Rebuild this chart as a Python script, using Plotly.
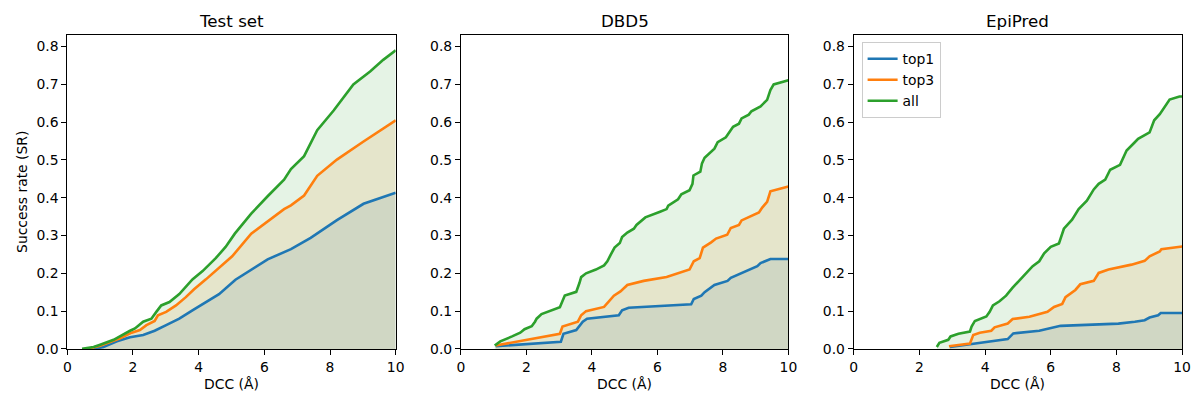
import plotly.graph_objects as go

# ---------------- data ----------------
series_names = ["top1", "top3", "all"]
colors = ["#1f77b4", "#ff7f0e", "#2ca02c"]
fills = ["rgba(31,119,180,0.12)", "rgba(255,127,14,0.12)", "rgba(44,160,44,0.12)"]
panel_titles = ["Test set", "DBD5", "EpiPred"]

# Test set
test_top1_x = [0.8, 1.1, 1.51, 1.91, 2.31, 2.66, 3.01, 3.41, 3.81, 4.22, 4.62, 5.12, 6.1, 6.81, 7.41, 8.21, 9.02, 9.62, 10.0]
test_top1_y = [0.0, 0.005, 0.020, 0.031, 0.037, 0.048, 0.063, 0.080, 0.102, 0.124, 0.145, 0.183, 0.237, 0.264, 0.294, 0.341, 0.384, 0.402, 0.413]
test_top3_x = [0.6, 1.0, 1.61, 1.96, 2.21, 2.41, 2.66, 2.76, 3.01, 3.31, 3.61, 3.86, 4.22, 4.62, 5.02, 5.6, 6.1, 6.6, 6.81, 7.21, 7.61, 8.21, 9.02, 9.62, 10.0]
test_top3_y = [0.0, 0.008, 0.028, 0.043, 0.050, 0.063, 0.074, 0.089, 0.098, 0.115, 0.137, 0.158, 0.184, 0.214, 0.245, 0.305, 0.338, 0.370, 0.380, 0.406, 0.458, 0.501, 0.549, 0.583, 0.605]
test_all_x = [0.45, 0.8, 1.0, 1.41, 1.91, 2.06, 2.31, 2.56, 2.71, 2.86, 3.11, 3.41, 3.81, 4.12, 4.52, 4.82, 5.1, 5.6, 6.1, 6.6, 6.81, 7.21, 7.61, 8.11, 8.71, 9.22, 9.62, 10.0]
test_all_y = [0.0, 0.005, 0.011, 0.024, 0.048, 0.054, 0.072, 0.080, 0.098, 0.115, 0.124, 0.145, 0.184, 0.206, 0.240, 0.270, 0.305, 0.358, 0.404, 0.448, 0.476, 0.510, 0.579, 0.631, 0.700, 0.734, 0.765, 0.790]

# DBD5
dbd_top1_x = [1.06, 3.05, 3.13, 3.52, 3.72, 3.85, 4.82, 4.92, 5.12, 7.03, 7.11, 7.34, 7.44, 7.74, 8.14, 8.24, 9.05, 9.15, 9.45, 10.0]
dbd_top1_y = [0.007, 0.019, 0.040, 0.050, 0.072, 0.080, 0.089, 0.102, 0.109, 0.118, 0.132, 0.141, 0.150, 0.169, 0.180, 0.188, 0.219, 0.227, 0.238, 0.238]
dbd_top3_x = [1.06, 3.02, 3.10, 3.57, 3.67, 3.82, 4.37, 4.67, 4.87, 5.08, 5.58, 6.28, 6.98, 7.11, 7.29, 7.39, 7.64, 7.79, 8.13, 8.24, 8.49, 8.57, 9.10, 9.20, 9.35, 9.45, 10.0]
dbd_top3_y = [0.009, 0.040, 0.059, 0.072, 0.089, 0.100, 0.111, 0.141, 0.152, 0.169, 0.180, 0.190, 0.210, 0.232, 0.240, 0.268, 0.282, 0.292, 0.302, 0.320, 0.328, 0.340, 0.361, 0.374, 0.389, 0.417, 0.430]
dbd_all_x = [1.03, 1.20, 1.56, 1.81, 1.94, 2.16, 2.26, 2.31, 2.46, 3.02, 3.17, 3.52, 3.62, 3.67, 3.82, 4.12, 4.37, 4.47, 4.57, 4.69, 4.85, 4.92, 5.08, 5.28, 5.36, 5.63, 6.08, 6.28, 6.33, 6.63, 6.73, 6.98, 7.07, 7.10, 7.31, 7.36, 7.44, 7.74, 7.84, 8.09, 8.31, 8.49, 8.57, 8.79, 8.87, 9.15, 9.35, 9.45, 9.55, 10.0]
dbd_all_y = [0.009, 0.020, 0.033, 0.043, 0.052, 0.060, 0.072, 0.080, 0.092, 0.110, 0.141, 0.151, 0.175, 0.190, 0.200, 0.210, 0.221, 0.232, 0.249, 0.268, 0.280, 0.296, 0.308, 0.318, 0.328, 0.348, 0.363, 0.370, 0.379, 0.396, 0.409, 0.420, 0.437, 0.459, 0.469, 0.491, 0.506, 0.530, 0.547, 0.560, 0.588, 0.596, 0.610, 0.620, 0.629, 0.642, 0.659, 0.685, 0.700, 0.711]

# EpiPred
epi_top1_x = [2.93, 3.64, 4.24, 4.69, 4.86, 5.65, 6.30, 8.06, 8.56, 8.86, 9.01, 9.27, 9.35, 10.0]
epi_top1_y = [0.005, 0.014, 0.020, 0.026, 0.041, 0.048, 0.061, 0.067, 0.072, 0.076, 0.083, 0.089, 0.095, 0.095]
epi_top3_x = [2.90, 3.54, 3.64, 3.84, 4.19, 4.29, 4.69, 4.84, 5.35, 5.90, 6.10, 6.35, 6.45, 6.75, 6.90, 7.31, 7.46, 7.76, 8.46, 8.86, 9.01, 9.32, 9.37, 10.0]
epi_top3_y = [0.007, 0.014, 0.037, 0.043, 0.048, 0.057, 0.067, 0.079, 0.085, 0.098, 0.111, 0.119, 0.137, 0.156, 0.171, 0.180, 0.201, 0.210, 0.223, 0.233, 0.245, 0.258, 0.264, 0.271]
epi_all_x = [2.53, 2.61, 2.88, 2.95, 3.19, 3.54, 3.59, 3.69, 4.04, 4.14, 4.24, 4.44, 4.64, 4.84, 5.14, 5.45, 5.65, 5.80, 6.00, 6.25, 6.40, 6.65, 6.85, 7.10, 7.31, 7.46, 7.66, 7.81, 8.11, 8.31, 8.56, 8.66, 9.01, 9.15, 9.32, 9.52, 9.62, 9.92, 10.0]
epi_all_y = [0.005, 0.016, 0.024, 0.033, 0.040, 0.046, 0.059, 0.074, 0.086, 0.098, 0.115, 0.126, 0.141, 0.162, 0.190, 0.219, 0.232, 0.253, 0.270, 0.279, 0.318, 0.342, 0.370, 0.392, 0.422, 0.437, 0.448, 0.474, 0.487, 0.525, 0.547, 0.556, 0.573, 0.605, 0.621, 0.646, 0.660, 0.668, 0.668]

x_ticks = [0, 2, 4, 6, 8, 10]
y_ticks = [0.0, 0.1, 0.2, 0.3, 0.4, 0.5, 0.6, 0.7, 0.8]

panels = [
    [(test_top1_x, test_top1_y), (test_top3_x, test_top3_y), (test_all_x, test_all_y)],
    [(dbd_top1_x, dbd_top1_y), (dbd_top3_x, dbd_top3_y), (dbd_all_x, dbd_all_y)],
    [(epi_top1_x, epi_top1_y), (epi_top3_x, epi_top3_y), (epi_all_x, epi_all_y)],
]

# ---------------- layout ----------------
W, H = 1200, 401
x_px = [(64, 396), (462, 793), (859, 1191)]
y_top, y_bot = 36, 356
ydom = [(H - y_bot) / H, (H - y_top) / H]
FONT = "DejaVu Sans"

fig = go.Figure()

for p, series in enumerate(panels):
    xa = "x" if p == 0 else f"x{p+1}"
    ya = "y" if p == 0 else f"y{p+1}"
    # fills first
    for i, (xs, ys) in enumerate(series):
        fig.add_trace(go.Scatter(x=xs, y=ys, xaxis=xa, yaxis=ya, mode="lines",
                                 line=dict(width=0, color=colors[i]), fill="tozeroy",
                                 fillcolor=fills[i], showlegend=False, hoverinfo="skip"))
    for i, (xs, ys) in enumerate(series):
        fig.add_trace(go.Scatter(x=xs, y=ys, xaxis=xa, yaxis=ya, mode="lines",
                                 line=dict(width=2.6, color=colors[i]), name=series_names[i],
                                 showlegend=(p == 2)))

axis_common = dict(showline=True, linecolor="black", linewidth=1, mirror=True,
                   ticks="outside", ticklen=5, tickwidth=1, tickcolor="black",
                   showgrid=False, zeroline=False,
                   tickfont=dict(family=FONT, size=13.9, color="black"))

layout = dict(width=W, height=H, margin=dict(l=0, r=0, t=0, b=0),
              plot_bgcolor="white", paper_bgcolor="white",
              font=dict(family=FONT, size=13.9, color="black"))
annotations = []
for p in range(3):
    sfx = "" if p == 0 else str(p + 1)
    l, r = x_px[p]
    layout["xaxis" + sfx] = dict(axis_common, domain=[l / W, r / W], range=[0, 10],
                                 tickvals=x_ticks, anchor="y" + sfx)
    layout["yaxis" + sfx] = dict(axis_common, domain=ydom, range=[0, 0.83],
                                 tickvals=y_ticks, tickformat=".1f", anchor="x" + sfx)
    cx = (l + r) / 2 / W
    annotations.append(dict(text=panel_titles[p], xref="paper", yref="paper", x=cx,
                            y=(H - 21) / H, showarrow=False, xanchor="center", yanchor="middle",
                            font=dict(family=FONT, size=16.7, color="black")))
    annotations.append(dict(text="DCC (Å)", xref="paper", yref="paper", x=cx,
                            y=(H - 392) / H, showarrow=False, xanchor="center", yanchor="middle",
                            font=dict(family=FONT, size=13.9, color="black")))
annotations.append(dict(text="Success rate (SR)", xref="paper", yref="paper", x=18 / W,
                        y=(H - 196) / H, showarrow=False, textangle=-90,
                        xanchor="center", yanchor="middle",
                        font=dict(family=FONT, size=13.9, color="black")))
layout["annotations"] = annotations
layout["legend"] = dict(x=867 / W, y=(H - 43) / H, xanchor="left", yanchor="top",
                        bordercolor="#cccccc", borderwidth=1, bgcolor="rgba(255,255,255,0.8)",
                        font=dict(family=FONT, size=13.9, color="black"),
                        tracegroupgap=0, itemwidth=30)
fig.update_layout(**layout)

fig.write_html("out.html")
